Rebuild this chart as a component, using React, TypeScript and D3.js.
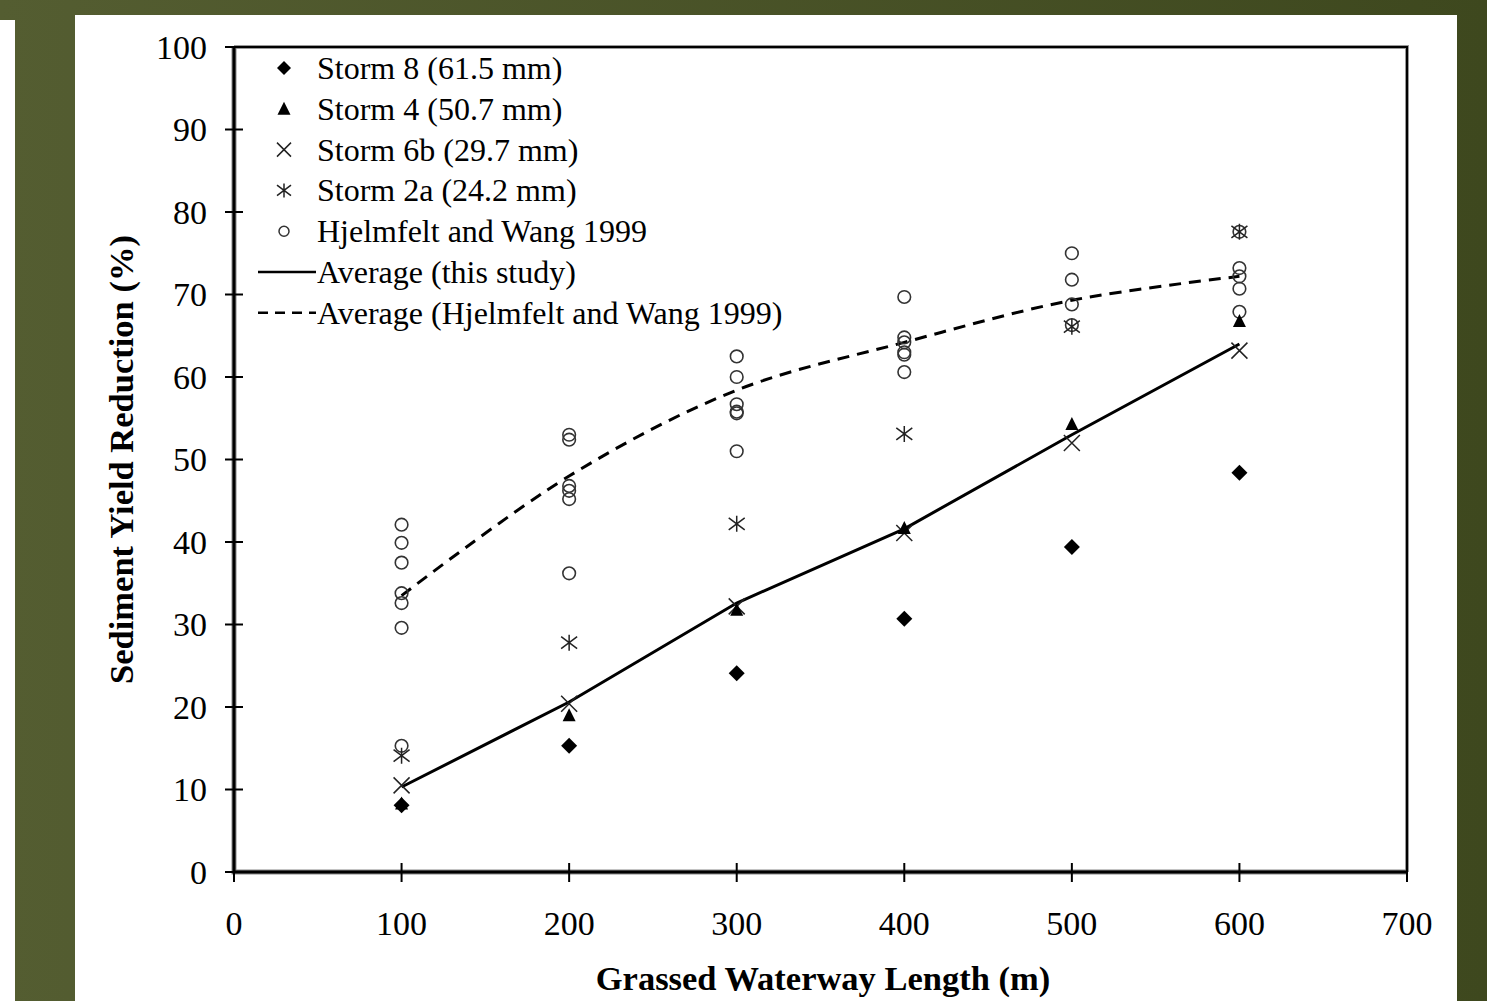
import React from "react";
import * as d3 from "d3";

// data
const lengths = [100, 200, 300, 400, 500, 600];
const storm8 = [8.1, 15.3, 24.1, 30.7, 39.4, 48.4];
const storm4 = [8.3, 19.0, 31.8, 41.7, 54.3, 66.8];
const storm6b = [10.5, 20.4, 32.2, 41.1, 52.0, 63.2];
const storm2a = [14.1, 27.8, 42.2, 53.1, 66.1, 77.6];
const hjelmfelt = [
  [42.1, 39.9, 37.5, 33.8, 32.6, 29.6, 15.3],
  [53.0, 52.4, 46.8, 46.2, 45.2, 36.2],
  [62.5, 60.0, 56.7, 55.8, 55.6, 51.0],
  [69.7, 64.8, 64.2, 63.0, 62.7, 60.6],
  [75.0, 71.8, 68.8, 66.3],
  [77.6, 73.2, 72.2, 70.7, 67.9],
];
const avgThisStudy = [10.3, 20.6, 32.6, 41.6, 53.0, 64.0];
const avgHjelmfelt = [33.5, 48.0, 58.4, 64.2, 69.3, 72.2];
const xTicks = [0, 100, 200, 300, 400, 500, 600, 700];
const yTicks = [0, 10, 20, 30, 40, 50, 60, 70, 80, 90, 100];
const legendLabels = [
  "Storm 8 (61.5 mm)",
  "Storm 4 (50.7 mm)",
  "Storm 6b (29.7 mm)",
  "Storm 2a (24.2 mm)",
  "Hjelmfelt and Wang 1999",
  "Average (this study)",
  "Average (Hjelmfelt and Wang 1999)",
];

const W = 1487;
const H = 1001;
const serif = "'Liberation Serif', 'Times New Roman', serif";

const x = d3.scaleLinear().domain([0, 700]).range([234, 1407]);
const y = d3.scaleLinear().domain([0, 100]).range([872, 47]);

const diamond = (cx: number, cy: number, r = 8) => (
  <path d={`M${cx},${cy - r}L${cx + r},${cy}L${cx},${cy + r}L${cx - r},${cy}Z`} fill="#000" />
);
const triangle = (cx: number, cy: number) => (
  <path d={`M${cx},${cy - 7}L${cx + 6.5},${cy + 6}L${cx - 6.5},${cy + 6}Z`} fill="#000" />
);
const cross = (cx: number, cy: number, r = 8) => (
  <path
    d={`M${cx - r},${cy - r}L${cx + r},${cy + r}M${cx - r},${cy + r}L${cx + r},${cy - r}`}
    stroke="#222"
    strokeWidth={1.5}
  />
);
const star = (cx: number, cy: number, r = 8) => (
  <path
    d={`M${cx - r},${cy - r * 0.75}L${cx + r},${cy + r * 0.75}M${cx - r},${cy + r * 0.75}L${cx + r},${cy - r * 0.75}M${cx},${cy - r}L${cx},${cy + r}`}
    stroke="#222"
    strokeWidth={1.5}
  />
);
const circle = (cx: number, cy: number) => (
  <circle cx={cx} cy={cy} r={6.3} fill="none" stroke="#333" strokeWidth={1.6} />
);

export default function App() {
  const dashedLine = d3
    .line<number>()
    .x((_, i) => x(lengths[i]))
    .y((d) => y(d))
    .curve(d3.curveCatmullRom);
  const solidLine = d3
    .line<number>()
    .x((_, i) => x(lengths[i]))
    .y((d) => y(d));

  const legendY = (i: number) => 68 + i * 40.8;

  return (
    <svg
      width={W}
      height={H}
      style={{ position: "absolute", left: 0, top: 0, display: "block" }}
    >
      <defs>
        <linearGradient id="bg" x1="0" x2="1" y1="0" y2="0">
          <stop offset="0" stopColor="#545d31" />
          <stop offset="1" stopColor="#3e481e" />
        </linearGradient>
      </defs>
      <rect width={W} height={H} fill="url(#bg)" />
      <rect x={0} y={20} width={15} height={H - 20} fill="#fff" />
      <rect x={75} y={15} width={1382} height={H - 15} fill="#fff" />

      {/* frame */}
      <path d={`M${x(0)},${y(100)}H${x(700)}V${y(0)}`} fill="none" stroke="#999" strokeWidth={4} />
      <path d={`M${x(0)},${y(100)}H${x(700)}V${y(0)}`} fill="none" stroke="#000" strokeWidth={2} />
      <path d={`M${x(0)},${y(100)}V${y(0)}H${x(700)}`} fill="none" stroke="#888" strokeWidth={5} />
      <path d={`M${x(0)},${y(100)}V${y(0)}H${x(700)}`} fill="none" stroke="#000" strokeWidth={3} />

      {/* y ticks */}
      {yTicks.map((t) => (
        <g key={"y" + t}>
          <line x1={225} x2={243} y1={y(t)} y2={y(t)} stroke="#000" strokeWidth={2} />
          <text
            x={207}
            y={y(t)}
            textAnchor="end"
            dominantBaseline="central"
            fontFamily={serif}
            fontSize={34}
          >
            {t}
          </text>
        </g>
      ))}
      {/* x ticks */}
      {xTicks.map((t) => (
        <g key={"x" + t}>
          <line x1={x(t)} x2={x(t)} y1={863} y2={882} stroke="#000" strokeWidth={2} />
          <text
            x={x(t)}
            y={935}
            textAnchor="middle"
            fontFamily={serif}
            fontSize={34}
          >
            {t}
          </text>
        </g>
      ))}

      <text
        x={823}
        y={990}
        textAnchor="middle"
        fontFamily={serif}
        fontWeight="bold"
        fontSize={34.5}
      >
        Grassed Waterway Length (m)
      </text>
      <text
        transform={`translate(133,${y(50)}) rotate(-90)`}
        textAnchor="middle"
        fontFamily={serif}
        fontWeight="bold"
        fontSize={34.5}
      >
        Sediment Yield Reduction (%)
      </text>

      {/* averages */}
      <path d={dashedLine(avgHjelmfelt) || ""} fill="none" stroke="#000" strokeWidth={3} strokeDasharray="12 8" />
      <path d={solidLine(avgThisStudy) || ""} fill="none" stroke="#000" strokeWidth={3} />

      {/* points */}
      {hjelmfelt.map((vals, i) =>
        vals.map((v, j) => <g key={`h${i}-${j}`}>{circle(x(lengths[i]), y(v))}</g>)
      )}
      {storm2a.map((v, i) => <g key={"s2" + i}>{star(x(lengths[i]), y(v))}</g>)}
      {storm6b.map((v, i) => <g key={"s6" + i}>{cross(x(lengths[i]), y(v))}</g>)}
      {storm4.map((v, i) => <g key={"s4" + i}>{triangle(x(lengths[i]), y(v))}</g>)}
      {storm8.map((v, i) => <g key={"s8" + i}>{diamond(x(lengths[i]), y(v))}</g>)}

      {/* legend */}
      <g>
        {diamond(284, legendY(0), 7)}
        {triangle(284, legendY(1))}
        {cross(284, legendY(2), 7)}
        {star(284, legendY(3), 7)}
        <circle cx={284} cy={legendY(4)} r={5} fill="none" stroke="#333" strokeWidth={1.5} />
        <line x1={258} x2={316} y1={legendY(5)} y2={legendY(5)} stroke="#000" strokeWidth={2.5} />
        <line x1={258} x2={316} y1={legendY(6)} y2={legendY(6)} stroke="#000" strokeWidth={2.5} strokeDasharray="10 7" />
        {legendLabels.map((l, i) => (
          <text
            key={l}
            x={317}
            y={legendY(i)}
            dominantBaseline="central"
            fontFamily={serif}
            fontSize={32}
          >
            {l}
          </text>
        ))}
      </g>
    </svg>
  );
}
